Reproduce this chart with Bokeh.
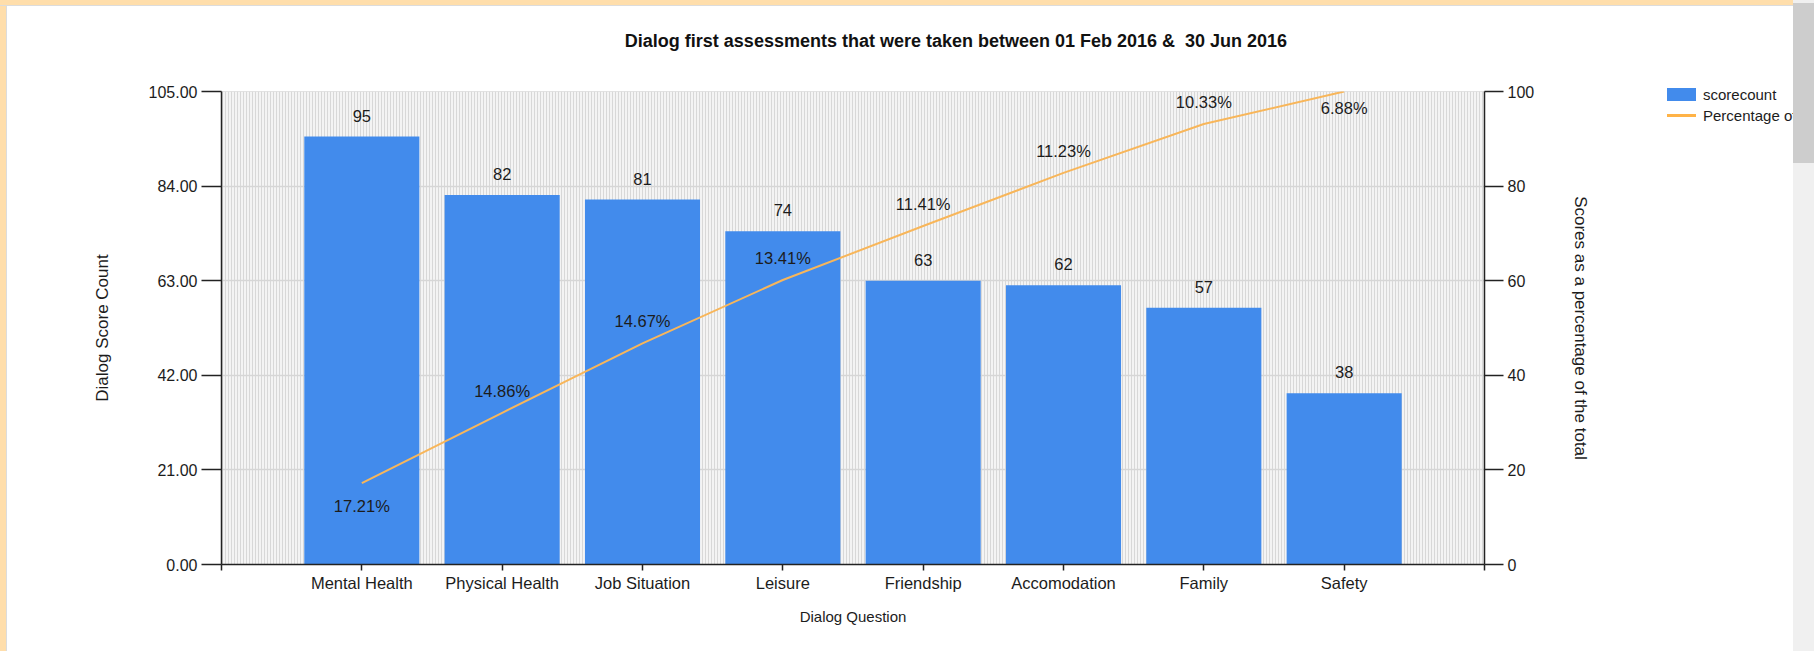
import html
import numpy as np
from bokeh.plotting import figure
from bokeh.models import (ColumnDataSource, Range1d, LinearAxis, FixedTicker, NumeralTickFormatter,
                          LabelSet, BoxAnnotation, Div)
from bokeh.core.properties import value
from bokeh.layouts import row, column
from bokeh.embed import file_html
from bokeh.resources import INLINE

# ---------------- data ----------------
categories = ["Mental Health", "Physical Health", "Job Situation", "Leisure",
              "Friendship", "Accomodation", "Family", "Safety"]
scorecount = [95, 82, 81, 74, 63, 62, 57, 38]
percent_of_total = [17.21, 14.86, 14.67, 13.41, 11.41, 11.23, 10.33, 6.88]
left_ticks = [0, 21, 42, 63, 84, 105]
right_ticks = [0, 20, 40, 60, 80, 100]

title_text = "Dialog first assessments that were taken between 01 Feb 2016 &  30 Jun 2016"
x_label = "Dialog Question"
y_label = "Dialog Score Count"
y2_label = "Scores as a percentage of the total"
legend_labels = ["scorecount", "Percentage of the total"]

# ---------------- derived ----------------
n = len(categories)
xs = list(range(1, n + 1))
cumulative = list(np.cumsum(scorecount) / np.sum(scorecount) * 100.0)
last = n - 1
pct_offsets = [-23 if i == 0 else (-16 if i == last else 22) for i in range(n)]

src = ColumnDataSource(dict(
    x=xs,
    count=scorecount,
    count_text=[str(v) for v in scorecount],
    cum=cumulative,
    pct_text=["%.2f%%" % v for v in percent_of_total],
    pct_off=pct_offsets,
))

FONT = "Liberation Sans"
TXT = "#1c1c1c"
BLUE = "#428bec"
ORANGE = "#f8b65a"
PEACH = "#ffdeab"
AXC = "#222222"

ROW_H = 645
TITLE_H = 60
MAIN_W = 1593
LEG_W = 193

p = figure(width=MAIN_W, height=ROW_H - TITLE_H, output_backend="svg", toolbar_location=None,
           x_range=Range1d(0, n + 1), y_range=Range1d(0, left_ticks[-1]),
           min_border_left=214, min_border_right=116, min_border_top=25, min_border_bottom=87)
p.extra_y_ranges = {"pct": Range1d(0, right_ticks[-1])}
p.background_fill_color = "#ebebeb"
p.border_fill_color = "white"
p.outline_line_color = "#dcdcdc"

# hatched (vertical stripe) plot background
bg = BoxAnnotation(fill_color="#f4f4f4", fill_alpha=1.0, line_color=None,
                   hatch_pattern="vertical_line", hatch_color="#d8d8d8",
                   hatch_scale=3, hatch_weight=1, level="image")
p.add_layout(bg)

# grid
p.xgrid.grid_line_color = None
p.ygrid.grid_line_color = "#d6d6d6"
p.ygrid.grid_line_width = 1.5
p.ygrid.ticker = FixedTicker(ticks=left_ticks)

def style_axis(ax, tick_out, label_size, label_standoff, axis_label_size, axis_label_standoff):
    ax.major_tick_out = tick_out
    ax.major_tick_in = 0
    ax.minor_tick_line_color = None
    ax.major_label_standoff = label_standoff
    ax.axis_label_standoff = axis_label_standoff
    ax.major_label_text_font = FONT
    ax.major_label_text_font_size = label_size
    ax.major_label_text_color = TXT
    ax.axis_label_text_font = FONT
    ax.axis_label_text_font_size = axis_label_size
    ax.axis_label_text_font_style = "normal"
    ax.axis_label_text_color = TXT
    ax.axis_line_width = 1.5
    ax.axis_line_color = AXC
    ax.major_tick_line_width = 1.5
    ax.major_tick_line_color = AXC

# x axis
xa = p.xaxis[0]
xa.ticker = FixedTicker(ticks=list(range(0, n + 2)))
overrides = {0: "", n + 1: ""}
for i, c in enumerate(categories):
    overrides[i + 1] = c
xa.major_label_overrides = overrides
xa.axis_label = x_label
style_axis(xa, 6, "16.5px", 3, "15px", 13)

# left y axis
ya = p.yaxis[0]
ya.ticker = FixedTicker(ticks=left_ticks)
ya.formatter = NumeralTickFormatter(format="0.00")
ya.axis_label = y_label
style_axis(ya, 20, "16px", 4, "17px", 34)

# right y axis
ra = LinearAxis(y_range_name="pct", ticker=FixedTicker(ticks=right_ticks), axis_label=y2_label)
style_axis(ra, 19, "16px", 4, "17px", 34)
p.add_layout(ra, "right")

# glyphs
bars = p.vbar(x="x", top="count", width=0.82, source=src, fill_color=BLUE, line_color=None)
line = p.line(x="x", y="cum", source=src, y_range_name="pct", line_color=ORANGE, line_width=2)

# labels
count_labels = LabelSet(x="x", y="count", text="count_text", source=src, y_offset=21,
                        text_align="center", text_baseline="middle",
                        text_font=value(FONT), text_font_size="16.5px", text_color=TXT)
pct_labels = LabelSet(x="x", y="cum", text="pct_text", source=src, y_range_name="pct",
                      y_offset="pct_off", text_align="center", text_baseline="middle",
                      text_font=value(FONT), text_font_size="16.5px", text_color=TXT)
p.add_layout(count_labels)
p.add_layout(pct_labels)

# title (above the plot, centred where the screenshot has it)
title_div = Div(width=MAIN_W, height=TITLE_H, margin=0, text=(
    '<div style="position:relative;width:%dpx;height:%dpx;">'
    '<div style="position:absolute;left:449px;top:25px;width:1000px;text-align:center;'
    'white-space:pre;font-family:\'Liberation Sans\';font-weight:bold;font-size:18px;'
    'line-height:21px;color:#111111;">%s</div></div>' % (MAIN_W, TITLE_H, html.escape(title_text))))

# legend (right of the chart, cut by the page's scrollbar as in the screenshot)
legend_div = Div(width=LEG_W, height=ROW_H, margin=0, text=(
    '<div style="position:relative;width:%dpx;height:%dpx;overflow:hidden;white-space:nowrap;'
    'font-family:\'Liberation Sans\';font-size:15px;line-height:17px;color:%s;">'
    '<div style="position:absolute;left:67px;top:82px;width:29px;height:13px;background:%s;"></div>'
    '<div style="position:absolute;left:103px;top:80px;">%s</div>'
    '<div style="position:absolute;left:67px;top:108px;width:29px;height:3px;background:%s;"></div>'
    '<div style="position:absolute;left:103px;top:101px;">%s</div>'
    '</div>' % (LEG_W, ROW_H, TXT, BLUE, html.escape(legend_labels[0]),
                "#ffb347", html.escape(legend_labels[1]))))

# page frame decoration (peach border + scrollbar as in the screenshot)
top_strip = Div(text="", width=MAIN_W + LEG_W + 7, height=6, margin=0,
                styles={"background": "linear-gradient(%s 0 5px, #dcdcdc 5px)" % PEACH})
left_strip = Div(text="", width=7, height=ROW_H, margin=0,
                 styles={"background": "linear-gradient(to right, %s 0 6px, #dcdcdc 6px)" % PEACH})
scroll = Div(text="", width=21, height=ROW_H + 6, margin=0,
             styles={"background": "linear-gradient(#f0f0f0 0 3px, #cdcdcd 3px 163px, #f0f0f0 163px)"})

layout = row(column(top_strip,
                    row(left_strip, column(title_div, p, spacing=0), legend_div, spacing=0),
                    spacing=0),
             scroll, spacing=0)
open("out.html", "w").write(file_html(layout, INLINE))
